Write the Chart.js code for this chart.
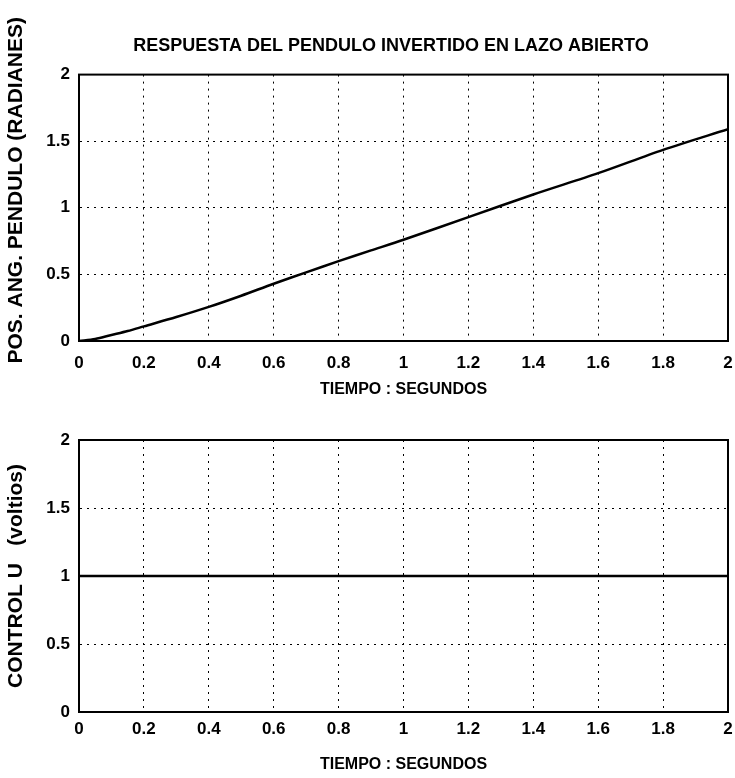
<!DOCTYPE html>
<html>
<head>
<meta charset="utf-8">
<script src="https://cdn.jsdelivr.net/npm/chart.js@4.4.1/dist/chart.umd.min.js"></script>
<style>
  html, body { margin: 0; padding: 0; background: #fff; }
  #wrap { position: relative; width: 735px; height: 778px; }
  .box { position: absolute; left: 0; width: 735px; }
</style>
</head>
<body>
<div id="wrap">
  <div class="box" style="top:0;height:400px"><canvas id="topChart"></canvas></div>
  <div class="box" style="top:400px;height:378px"><canvas id="bottomChart"></canvas></div>
</div>
<script>
// tiempo (s) y posicion angular del pendulo (rad)
const tiempo = [0, 0.05, 0.1, 0.15, 0.2, 0.3, 0.4, 0.5, 0.6, 0.7, 0.8, 0.9, 1.0, 1.2, 1.4, 1.6, 1.8, 2.0];
const posAng = [0, 0.015, 0.045, 0.075, 0.11, 0.18, 0.256, 0.34, 0.43, 0.515, 0.60, 0.68, 0.76, 0.93, 1.10, 1.26, 1.435, 1.59];

// senal de control en lazo abierto
const tiempoU = [0, 2];
const controlU = [1, 1];

const xTicks = [0, 0.2, 0.4, 0.6, 0.8, 1, 1.2, 1.4, 1.6, 1.8, 2];
const yTicks = [0, 0.5, 1, 1.5, 2];

const FONT = '"Liberation Sans Narrow", "Arial Narrow", "Liberation Sans", sans-serif';

// marco completo alrededor del area de trazado
const frame = {
  id: "frame",
  afterDraw(chart) {
    const { ctx, chartArea: a } = chart;
    ctx.save();
    ctx.strokeStyle = "#000";
    ctx.lineWidth = 2;
    ctx.strokeRect(a.left, a.top, a.right - a.left, a.bottom - a.top);
    ctx.restore();
  }
};

function makeChart(id, xs, ys, opts) {
  const points = xs.map((x, i) => ({ x: x, y: ys[i] }));
  return new Chart(document.getElementById(id), {
    type: "line",
    data: {
      datasets: [{
        data: points,
        borderColor: "#000",
        borderWidth: 2.5,
        pointRadius: 0,
        tension: 0.3,
        fill: false
      }]
    },
    options: {
      responsive: true,
      maintainAspectRatio: false,
      animation: false,
      layout: { padding: { top: opts.padTop, right: 7, left: 0, bottom: 0 } },
      plugins: {
        legend: { display: false },
        tooltip: { enabled: false },
        title: opts.title ? {
          display: true,
          fullSize: false,
          text: opts.title,
          color: "#000",
          font: { family: FONT, size: 18, weight: "bold" },
          padding: { top: 0, bottom: 18 }
        } : { display: false }
      },
      scales: {
        x: {
          type: "linear",
          min: 0, max: 2,
          afterBuildTicks: s => { s.ticks = xTicks.map(v => ({ value: v })); },
          afterFit: s => { s.height = opts.xHeight; s.paddingLeft = 0; s.paddingRight = 0; },
          grid: { color: "#000", lineWidth: 1, drawTicks: false },
          border: { display: true, color: "#000", width: 2, dash: [2, 5] },
          ticks: {
            color: "#000",
            padding: opts.tickPad,
            maxRotation: 0,
            font: { family: FONT, size: 17, weight: "bold" },
            callback: v => String(+v.toFixed(1))
          },
          title: {
            display: true,
            text: "TIEMPO : SEGUNDOS",
            color: "#000",
            font: { family: FONT, size: 16, weight: "bold" },
            padding: { top: 0, bottom: opts.xTitlePad }
          }
        },
        y: {
          min: 0, max: 2,
          afterBuildTicks: s => { s.ticks = yTicks.map(v => ({ value: v })); },
          afterFit: s => { s.width = 79; s.paddingTop = 0; s.paddingBottom = 0; },
          grid: { color: "#000", lineWidth: 1, drawTicks: false },
          border: { display: true, color: "#000", width: 2, dash: [2, 5] },
          ticks: {
            color: "#000",
            padding: 9,
            font: { family: FONT, size: 17, weight: "bold" },
            callback: v => String(v)
          },
          title: {
            display: true,
            text: opts.yTitle,
            color: "#000",
            font: { family: FONT, size: 21, weight: "bold" },
            padding: { top: 4, bottom: 0 }
          }
        }
      }
    },
    plugins: [frame]
  });
}

makeChart("topChart", tiempo, posAng, {
  title: "RESPUESTA DEL PENDULO INVERTIDO EN LAZO ABIERTO     ",
  yTitle: "      POS. ANG. PENDULO (RADIANES)",
  padTop: 35,
  xHeight: 59,
  tickPad: 12,
  xTitlePad: 1
});

makeChart("bottomChart", tiempoU, controlU, {
  title: null,
  yTitle: "CONTROL U   (voltios)",
  padTop: 40,
  xHeight: 66,
  tickPad: 7,
  xTitlePad: 4
});
</script>
</body>
</html>
